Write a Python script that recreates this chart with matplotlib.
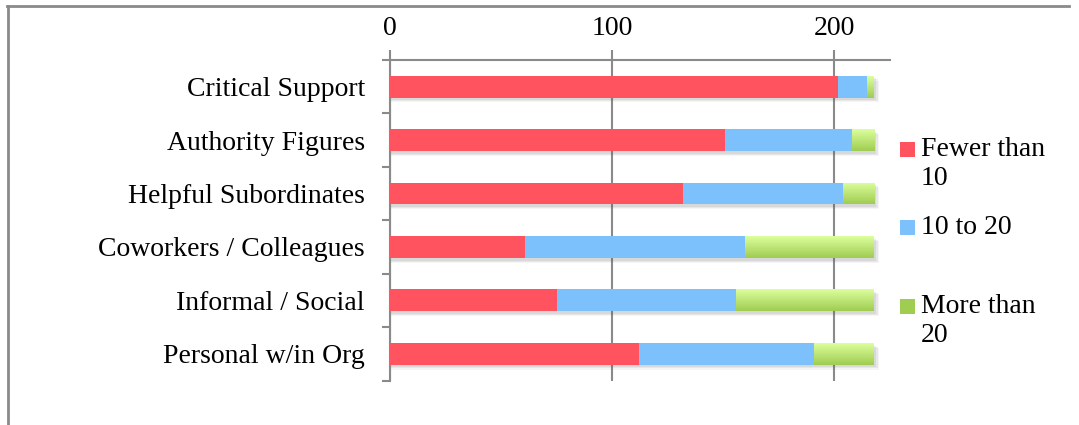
import matplotlib
matplotlib.use("Agg")
import matplotlib.pyplot as plt
import numpy as np
from matplotlib.colors import LinearSegmentedColormap
from matplotlib.patches import Rectangle
from matplotlib.lines import Line2D

categories = ["Critical Support", "Authority Figures", "Helpful Subordinates",
              "Coworkers / Colleagues", "Informal / Social", "Personal w/in Org"]
fewer_than_10 = [202, 151, 132, 61, 75, 112]
ten_to_20 = [13, 57, 72, 99, 81, 79]
more_than_20 = [3, 10, 14, 58, 62, 27]
series_names = ["Fewer than\n10", "10 to 20", "More than\n20"]
x_ticks = [0, 100, 200]

RED = "#ff5360"
BLUE = "#7dc1fc"
GREEN_TOP = "#dcff9c"
GREEN_BOT = "#a0cc52"
GREY = "#8a8a8a"

W, H = 1079, 425
FS = 20
plt.rcParams["font.family"] = ["Liberation Serif", "DejaVu Serif"]

fig = plt.figure(figsize=(W / 100, H / 100), dpi=100)
ax = fig.add_axes([390 / W, 1 - 380.5 / H, (889.5 - 390) / W, (380.5 - 60) / H])

y = np.arange(len(categories))
h = 0.41
fewer = np.array(fewer_than_10)
mid = np.array(ten_to_20)
more = np.array(more_than_20)
totals = fewer + mid + more

# soft shadow under bars
for k, a in enumerate([0.10, 0.08, 0.06]):
    ax.barh(y + 0.05 + 0.02 * k, totals + 1.0 + 0.6 * k, height=h, left=0,
            color="#555555", alpha=a, linewidth=0, zorder=1)

ax.barh(y, fewer, height=h, color=RED, linewidth=0, zorder=3)
ax.barh(y, mid, height=h, left=fewer, color=BLUE, linewidth=0, zorder=3)
green_bars = ax.barh(y, more, height=h, left=fewer + mid, color=GREEN_BOT,
                     linewidth=0, zorder=3)

# vertical gradient on the green segments
cmap = LinearSegmentedColormap.from_list("g", [GREEN_TOP, GREEN_BOT])
grad = np.linspace(0, 1, 64).reshape(-1, 1)
for patch in green_bars.patches:
    x0 = patch.get_x()
    y0 = patch.get_y()
    im = ax.imshow(grad, cmap=cmap, aspect="auto", origin="upper",
                   extent=[x0, x0 + patch.get_width(), y0 + h, y0],
                   zorder=4, interpolation="bilinear")
    im.set_clip_path(patch)

ax.set_xlim(0, 225)
ax.set_ylim(len(categories) - 0.5, -0.5)

ax.xaxis.tick_top()
ax.set_xticks(x_ticks)
ax.set_xticklabels([str(t) for t in x_ticks], fontsize=FS)
ax.tick_params(axis="x", direction="out", length=7, width=1.5, color=GREY, pad=7)
ax.grid(axis="x", color=GREY, linewidth=1.5, zorder=0)
ax.set_axisbelow(True)

ax.set_yticks(np.arange(len(categories) + 1) - 0.5)
ax.set_yticklabels([])
ax.set_yticks(y, minor=True)
ax.set_yticklabels(categories, minor=True, fontsize=FS)
ax.tick_params(axis="y", which="major", direction="out", length=6, width=1.5, color=GREY)
ax.tick_params(axis="y", which="minor", length=0, pad=18)

for side in ["right", "bottom"]:
    ax.spines[side].set_visible(False)
for side in ["top", "left"]:
    ax.spines[side].set_color(GREY)
    ax.spines[side].set_linewidth(1.5)

# legend
legend_colors = [RED, BLUE, GREEN_BOT]
legend_rows = [149, 227, 306]
for name, col, py in zip(series_names, legend_colors, legend_rows):
    fig.patches.append(Rectangle((900 / W, 1 - (py + 8) / H), 15 / W, 15 / H,
                                 transform=fig.transFigure, linewidth=0, color=col))
    fig.text(921 / W, 1 - (py - 12) / H, name, fontsize=FS, va="top", ha="left",
             linespacing=1.2)

# chart frame
fig.add_artist(Line2D([7 / W, 1069 / W], [1 - 5.5 / H, 1 - 5.5 / H],
                      transform=fig.transFigure, color=GREY, linewidth=2))
fig.add_artist(Line2D([7.5 / W, 7.5 / W], [0, 1 - 5.5 / H],
                      transform=fig.transFigure, color=GREY, linewidth=2))

fig.savefig("out.png", dpi=100)
